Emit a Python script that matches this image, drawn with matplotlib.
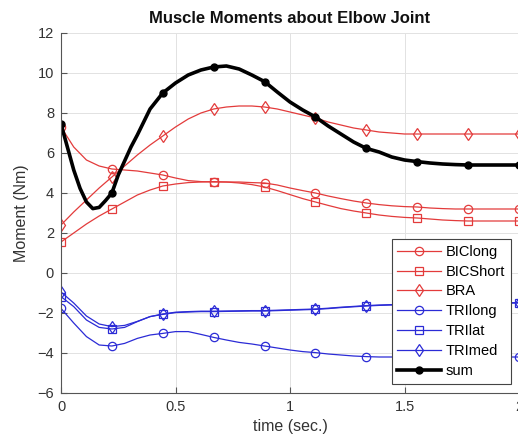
import numpy as np
import matplotlib
matplotlib.use("Agg")
import matplotlib.pyplot as plt

plt.rcParams['font.family'] = ['Liberation Sans', 'DejaVu Sans']

# time base for the muscles (markers every 4th sample)
time = np.linspace(0, 2, 37)

BIClong = [7.30, 6.30, 5.65, 5.35, 5.20, 5.15, 5.10, 5.00, 4.90, 4.75, 4.62, 4.57, 4.55,
           4.55, 4.55, 4.52, 4.50, 4.40, 4.25, 4.12, 4.00, 3.85, 3.72, 3.60, 3.50, 3.42,
           3.36, 3.32, 3.30, 3.25, 3.22, 3.20, 3.20, 3.20, 3.20, 3.20, 3.20]
BICShort = [1.55, 2.00, 2.45, 2.85, 3.20, 3.55, 3.90, 4.15, 4.35, 4.45, 4.52, 4.55, 4.57,
            4.55, 4.50, 4.42, 4.30, 4.12, 3.92, 3.72, 3.55, 3.38, 3.22, 3.10, 3.00, 2.90,
            2.83, 2.78, 2.75, 2.70, 2.65, 2.62, 2.60, 2.60, 2.60, 2.60, 2.60]
BRA = [2.40, 3.05, 3.65, 4.25, 4.80, 5.35, 5.90, 6.40, 6.85, 7.30, 7.70, 8.00, 8.20,
       8.30, 8.35, 8.35, 8.30, 8.20, 8.05, 7.90, 7.75, 7.55, 7.40, 7.25, 7.15, 7.05,
       7.00, 6.95, 6.95, 6.95, 6.95, 6.95, 6.95, 6.95, 6.95, 6.95, 6.95]
TRIlong = [-1.77, -2.50, -3.18, -3.60, -3.65, -3.52, -3.27, -3.10, -3.02, -2.93, -2.93, -3.07, -3.22,
           -3.35, -3.47, -3.55, -3.65, -3.75, -3.85, -3.93, -3.98, -4.05, -4.10, -4.15, -4.18, -4.20,
           -4.20, -4.20, -4.20, -4.20, -4.20, -4.20, -4.20, -4.20, -4.20, -4.20, -4.20]
TRIlat = [-1.18, -1.68, -2.35, -2.72, -2.80, -2.72, -2.43, -2.18, -2.07, -1.98, -1.95, -1.93, -1.93,
          -1.92, -1.91, -1.90, -1.90, -1.88, -1.86, -1.84, -1.82, -1.78, -1.73, -1.69, -1.65, -1.62,
          -1.60, -1.58, -1.56, -1.55, -1.54, -1.53, -1.52, -1.52, -1.51, -1.51, -1.50]
TRImed = [-0.95, -1.50, -2.15, -2.55, -2.68, -2.62, -2.42, -2.18, -2.05, -1.96, -1.93, -1.91, -1.91,
          -1.90, -1.89, -1.88, -1.88, -1.86, -1.84, -1.82, -1.80, -1.76, -1.71, -1.67, -1.63, -1.60,
          -1.58, -1.56, -1.54, -1.53, -1.52, -1.51, -1.50, -1.50, -1.49, -1.49, -1.48]

# sum: sampled more finely over the early dip
sum_time = [0.0, 0.0278, 0.0556, 0.0833, 0.1111, 0.1389, 0.1667, 0.1944, 0.2222, 0.25,
            0.2778, 0.3056, 0.3333, 0.3889, 0.4444, 0.5, 0.5556, 0.6111, 0.6667, 0.7222,
            0.7778, 0.8333, 0.8889, 0.9444, 1.0, 1.0556, 1.1111, 1.1667, 1.2222, 1.2778,
            1.3333, 1.3889, 1.4444, 1.5, 1.5556, 1.6111, 1.6667, 1.7222, 1.7778, 1.8333,
            1.8889, 1.9444, 2.0]
total = [7.45, 6.30, 5.15, 4.23, 3.55, 3.22, 3.28, 3.62, 4.00, 4.90,
         5.60, 6.30, 6.90, 8.20, 9.00, 9.50, 9.90, 10.15, 10.30, 10.35,
         10.20, 9.90, 9.57, 9.05, 8.55, 8.15, 7.80, 7.35, 6.95, 6.55,
         6.23, 6.05, 5.80, 5.65, 5.57, 5.50, 5.45, 5.42, 5.40, 5.40,
         5.40, 5.40, 5.40]
sum_marks = [0, 8, 14, 18, 22, 26, 30, 34, 38, 42]

xticks = [0, 0.5, 1, 1.5, 2]
yticks = [-6, -4, -2, 0, 2, 4, 6, 8, 10, 12]

red = '#e33b3b'
blue = '#2b2bd6'

fig = plt.figure(figsize=(5.18, 4.42), dpi=100)
ax = fig.add_axes([61/518, 1 - 393/442, 458/518, 360/442])

series = [
    (BIClong, 'BIClong', red, 'o'),
    (BICShort, 'BICShort', red, 's'),
    (BRA, 'BRA', red, 'd'),
    (TRIlong, 'TRIlong', blue, 'o'),
    (TRIlat, 'TRIlat', blue, 's'),
    (TRImed, 'TRImed', blue, 'd'),
]
for vals, name, col, mk in series:
    ax.plot(time, vals, color=col, lw=0.9, marker=mk, markevery=4, ms=6 if mk != 'd' else 6.5,
            mfc='none', mec=col, mew=0.9, label=name, solid_joinstyle='round')
ax.plot(sum_time, total, color='black', lw=2.6, marker='o', markevery=sum_marks, ms=5,
        mfc='black', mec='black', label='sum', solid_joinstyle='round')

ax.set_xlim(0, 2)
ax.set_ylim(-6, 12)
ax.set_xticks(xticks)
ax.set_xticklabels(['0', '0.5', '1', '1.5', '2'])
ax.set_yticks(yticks)
ax.grid(True, color='#e2e2e2', lw=0.7)
ax.set_axisbelow(True)
for s in ['top', 'right']:
    ax.spines[s].set_visible(False)
for s in ['left', 'bottom']:
    ax.spines[s].set_color('#555555')
    ax.spines[s].set_linewidth(0.8)
ax.tick_params(direction='in', length=4, width=0.8, colors='#555555',
               labelcolor='#333333', labelsize=10.5, pad=5)

ax.set_title('Muscle Moments about Elbow Joint', fontsize=12, fontweight='bold',
             color='#111111', pad=7)
ax.set_xlabel('time (sec.)', fontsize=11.5, color='#333333', labelpad=4)
ax.set_ylabel('Moment (Nm)', fontsize=11.5, color='#333333', labelpad=6)

leg = ax.legend(loc='lower right', bbox_to_anchor=(0.982, 0.026), borderaxespad=0,
                fontsize=10.5, labelspacing=0.4, borderpad=0.4, handlelength=3.0,
                handletextpad=0.3, fancybox=False, framealpha=1, edgecolor='#444444')
leg.get_frame().set_linewidth(0.8)

fig.savefig('out.png', dpi=100)
